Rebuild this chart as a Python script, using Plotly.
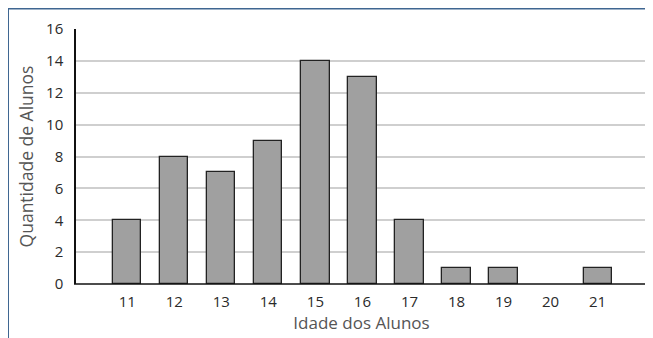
import plotly.graph_objects as go

ages = [11, 12, 13, 14, 15, 16, 17, 18, 19, 20, 21]
counts = [4, 8, 7, 9, 14, 13, 4, 1, 1, 0, 1]
y_ticks = [0, 2, 4, 6, 8, 10, 12, 14, 16]

OFF = 8  # page body margin
W, H = 653 - OFF, 338 - OFF
L, R, T, B = 76 - OFF, 6, 29 - OFF, 54
pw, ph = W - L - R, H - T - B

def px(x):
    return (x - OFF - L) / pw

def py(y):
    return (H - B - (y - OFF)) / ph

fig = go.Figure()
fig.add_trace(go.Bar(
    x=ages, y=counts, width=0.6,
    marker=dict(color="#a0a0a0",
                line=dict(color="#222222", width=[1.3 if c > 0 else 0 for c in counts])),
))

tfont = "'Open Sans', Lato, sans-serif"
fig.update_layout(
    width=W, height=H,
    margin=dict(l=L, r=R, t=T, b=B),
    paper_bgcolor="white", plot_bgcolor="white",
    showlegend=False,
    bargap=0,
    xaxis=dict(
        range=[9.91, 22.05], tickmode="array", tickvals=ages,
        ticktext=[str(a) for a in ages],
        showgrid=False, zeroline=False, showline=False,
        ticks="outside", ticklen=4, tickcolor="rgba(0,0,0,0)",
        tickfont=dict(family=tfont, size=15, color="#2a2a2a"),
        title=dict(text="Idade dos Alunos", font=dict(family=tfont, size=17, color="#555555"), standoff=4),
    ),
    yaxis=dict(
        range=[0, 16], tickmode="array", tickvals=y_ticks,
        showgrid=True, gridcolor="#cfcfcf", gridwidth=1.5,
        zeroline=False, showline=True, linecolor="#111111", linewidth=1.5,
        ticks="outside", ticklen=8, tickcolor="rgba(0,0,0,0)",
        tickfont=dict(family=tfont, size=15, color="#2a2a2a"),
        title=dict(text="Quantidade de Alunos", font=dict(family=tfont, size=17.5, color="#555555"), standoff=8),
    ),
    shapes=[
        dict(type="line", xref="paper", yref="paper", x0=px(74), x1=px(648), y0=0, y1=0,
             line=dict(color="#111111", width=1.5)),
        dict(type="line", xref="paper", yref="paper", x0=px(647.5), x1=px(647.5), y0=0, y1=py(277),
             line=dict(color="#111111", width=1.5)),
        dict(type="line", xref="paper", yref="paper", x0=px(7), x1=px(653), y0=py(8.5), y1=py(8.5),
             line=dict(color="#3f6691", width=2)),
        dict(type="line", xref="paper", yref="paper", x0=px(8), x1=px(8), y0=py(8), y1=py(338),
             line=dict(color="#3f6691", width=2)),
    ],
)

fig.write_html("out.html")
